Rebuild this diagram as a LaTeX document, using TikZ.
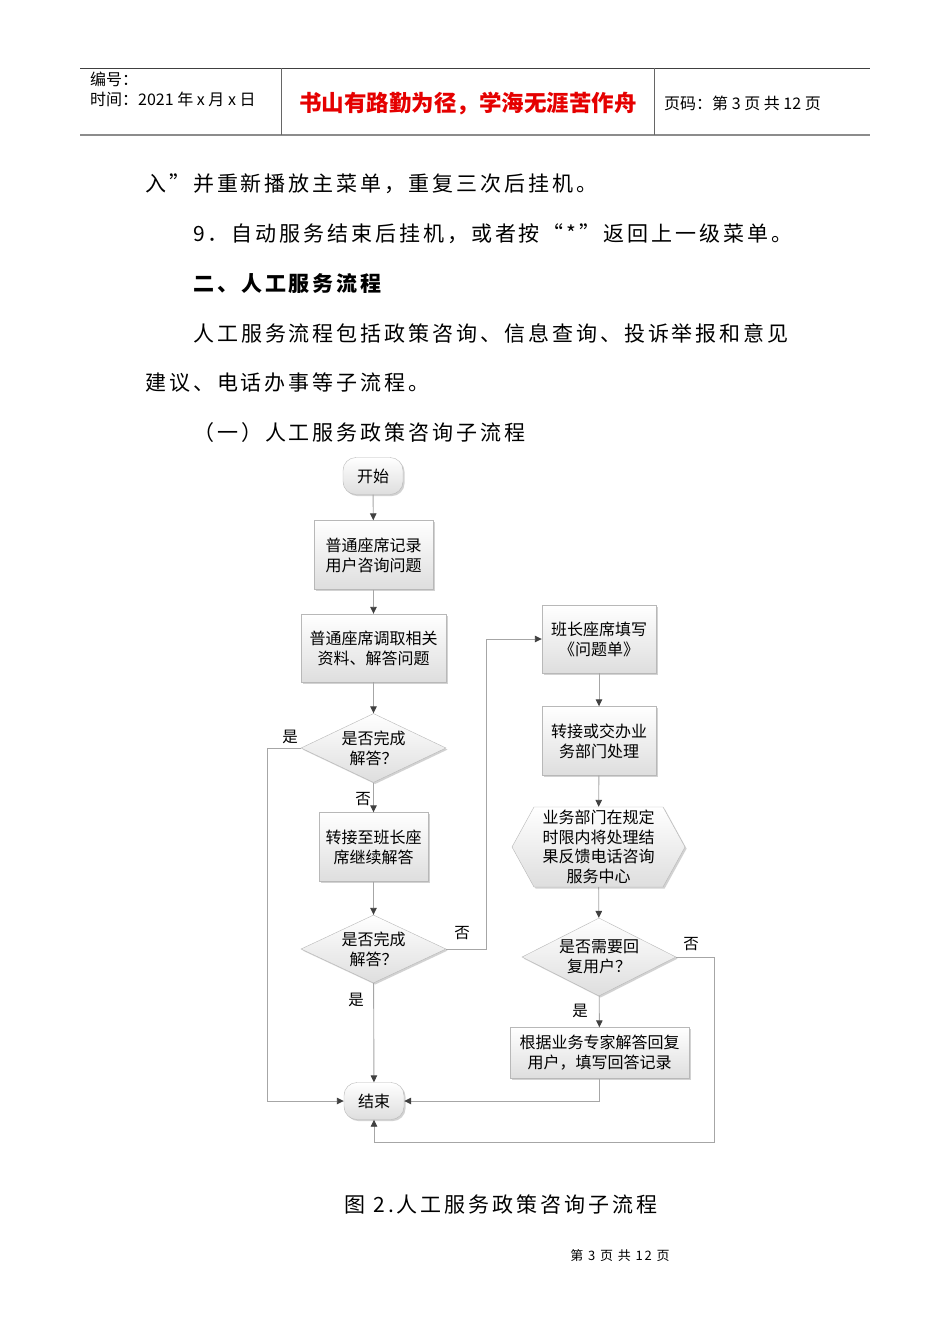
\documentclass[tikz,border=0pt]{standalone}
\usepackage{fontspec}
\newfontfamily\cjk{Noto Sans CJK SC}
\newfontfamily\cjkwide[LetterSpace=14]{Noto Sans CJK SC}
\usetikzlibrary{shapes.geometric, arrows.meta, shadows}

\begin{document}
\begin{tikzpicture}[x=1pt, y=-1pt,
  body/.style={font=\fontsize{21}{24}\cjkwide, inner sep=0pt},
  lbl/.style={font=\fontsize{15.5}{18}\cjk, inner sep=0pt},
  line/.style={draw=black!35, line width=0.9pt},
  flow/.style={line, -{Triangle[length=7pt, width=6.5pt, color=black!75]}},
  boxshade/.style={draw=black!28, top color=white, bottom color=black!13,
    drop shadow={shadow xshift=1.6pt, shadow yshift=-1.6pt, fill=black!35, opacity=0.5}},
  proc/.style={boxshade, rectangle, align=center, inner sep=0pt,
    font=\fontsize{16}{20}\cjk},
  term/.style={proc, rounded corners=13pt, minimum width=60pt, minimum height=37pt},
  decide/.style={proc, diamond, aspect=2.1}]
  % page
  \fill[white] (0,0) rectangle (950,1344);
  \useasboundingbox (0,0) rectangle (950,1344);
  % header table
  \draw[black!75, line width=0.8pt] (80,68) -- (870,68);
  \draw[black!45, line width=2.2pt] (80,135) -- (870,135);
  \draw[black!60, line width=0.6pt] (281,68) -- (281,135);
  \draw[black!60, line width=0.6pt] (654,68) -- (654,135);
  \node[lbl, font=\fontsize{16}{18}\cjk, anchor=west] (hnum) at (90,79) {编号：};
  \node[lbl, font=\fontsize{16}{18}\cjk, anchor=west] (hdate) at (90,99) {时间：2021 年 x 月 x 日};
  \node[font=\fontsize{22.5}{24}\cjk\bfseries, color=red!90!black, inner sep=0pt] (motto) at (468,104) {书山有路勤为径，学海无涯苦作舟};
  \node[lbl, font=\fontsize{16}{18}\cjk, anchor=west] (hpage) at (664,103) {页码：第 3 页 共 12 页};
  % running text
  \node[body, anchor=west] (l1) at (145,184) {入”并重新播放主菜单，重复三次后挂机。};
  \node[body, anchor=west] (l2) at (193,234) {9．自动服务结束后挂机，或者按“*”返回上一级菜单。};
  \node[body, font=\fontsize{21}{24}\cjkwide\bfseries, anchor=west] (l3) at (193,284) {二、人工服务流程};
  \node[body, anchor=west] (l4) at (193,334) {人工服务流程包括政策咨询、信息查询、投诉举报和意见};
  \node[body, anchor=west] (l5) at (145,383) {建议、电话办事等子流程。};
  \node[body, anchor=west] (l6) at (193,433) {（一）人工服务政策咨询子流程};
  % left column
  \node[term] (start) at (373,476) {开始};
  \node[proc, minimum width=119pt, minimum height=69pt] (rec) at (373.5,555) {普通座席记录\\用户咨询问题};
  \node[proc, minimum width=145pt, minimum height=68pt] (ans) at (373.5,648) {普通座席调取相关\\资料、解答问题};
  \node[decide, minimum width=145pt, minimum height=69pt] (done1) at (373.5,748) {是否完成\\解答？};
  \node[proc, minimum width=109pt, minimum height=69pt] (pass) at (373.5,847) {转接至班长座\\席继续解答};
  \node[decide, minimum width=145pt, minimum height=68pt] (done2) at (373.5,949) {是否完成\\解答？};
  \node[term] (stop) at (374,1101) {结束};
  % right column
  \node[proc, minimum width=114pt, minimum height=68pt] (form) at (599,639) {班长座席填写\\《问题单》};
  \node[proc, minimum width=114pt, minimum height=69pt] (dept) at (599,741) {转接或交办业\\务部门处理};
  \path[boxshade] (534,807) -- (663,807) -- (685,847) -- (663,887) -- (534,887) -- (512,847) -- cycle;
  \node[align=center, inner sep=0pt, font=\fontsize{16}{19.7}\cjk, minimum width=173pt, minimum height=80pt] (feed) at (598.5,847) {业务部门在规定\\时限内将处理结\\果反馈电话咨询\\服务中心};
  \node[decide, minimum width=154pt, minimum height=78pt] (reply) at (599,957) {是否需要回\\复用户？};
  \node[proc, minimum width=179pt, minimum height=51pt] (back) at (599.5,1053) {根据业务专家解答回复\\用户，填写回答记录};
  % connectors
  \draw[flow] (start) -- (rec);
  \draw[flow] (rec) -- (ans);
  \draw[flow] (ans) -- (done1);
  \draw[flow] (done1) -- (pass);
  \draw[flow] (pass) -- (done2);
  \draw[flow] (done2) -- (stop);
  \draw[flow] (done1.west) -- ++(-33,0) |- (stop.west);
  \draw[flow] (done2.east) -- ++(40,0) |- (form.west);
  \draw[flow] (form) -- (dept);
  \draw[flow] (dept) -- (feed);
  \draw[flow] (feed) -- (reply);
  \draw[flow] (reply) -- (back);
  \draw[flow] (back.south) |- (stop.east);
  \draw[flow] (reply.east) -- ++(38,0) -- ++(0,185) -| (stop.south);
  % branch labels
  \node[lbl] (y1) at (290,737) {是};
  \node[lbl] (n1) at (363,799) {否};
  \node[lbl] (n2) at (462,933) {否};
  \node[lbl] (y2) at (356,1000) {是};
  \node[lbl] (n3) at (691,944) {否};
  \node[lbl] (y3) at (580,1011) {是};
  % caption and footer
  \node[body] (cap) at (501,1205) {图 2.人工服务政策咨询子流程};
  \node[font=\fontsize{13}{15}\cjkwide, inner sep=0pt] (foot) at (620,1256) {第 3 页 共 12 页};
\end{tikzpicture}
\end{document}
